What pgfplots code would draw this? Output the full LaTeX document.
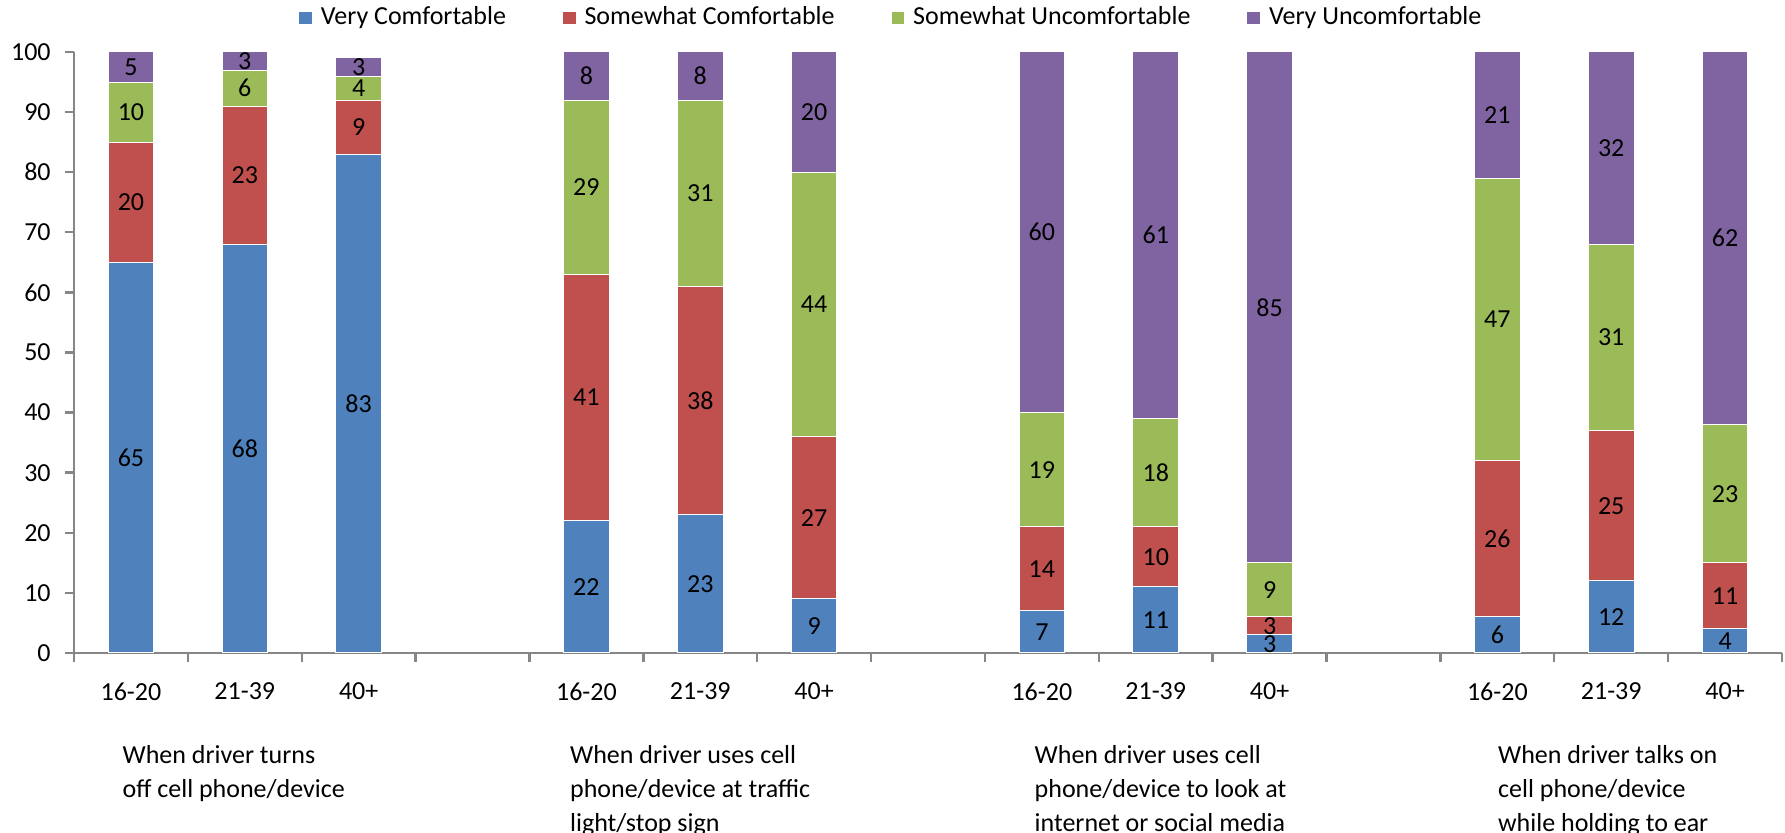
\documentclass[border=0pt]{standalone}
\usepackage{pgfplots}
\usepackage{pgfplotstable}
\pgfplotsset{compat=1.18}
\usetikzlibrary{calc}
\usepackage{fontspec}
\setmainfont{Carlito}
\definecolor{cVC}{HTML}{4F81BD}
\definecolor{cSC}{HTML}{C0504D}
\definecolor{cSU}{HTML}{9BBB59}
\definecolor{cVU}{HTML}{8064A2}
\definecolor{axgray}{HTML}{868686}
\pgfplotstableread{
x y
0 65
1 68
2 83
4 22
5 23
6 9
8 7
9 11
10 3
12 6
13 12
14 4
}\tVC
\pgfplotstableread{
x y
0 20
1 23
2 9
4 41
5 38
6 27
8 14
9 10
10 3
12 26
13 25
14 11
}\tSC
\pgfplotstableread{
x y
0 10
1 6
2 4
4 29
5 31
6 44
8 19
9 18
10 9
12 47
13 31
14 23
}\tSU
\pgfplotstableread{
x y
0 5
1 3
2 3
4 8
5 8
6 20
8 60
9 61
10 85
12 21
13 32
14 62
}\tVU
\begin{document}
\begin{tikzpicture}
\begin{axis}[
  scale only axis,
  width=427pt, height=150.25pt,
  ybar stacked,
  bar width=0.4,
  clip=false,
  xmin=-0.5, xmax=14.5,
  ymin=0, ymax=100,
  axis x line*=bottom,
  axis y line*=left,
  axis line style={axgray, line width=0.6pt},
  ytick={0,10,...,100},
  xtick={-0.5,0.5,...,14.5},
  xticklabels={},
  extra x ticks={0,1,2,4,5,6,8,9,10,12,13,14},
  extra x tick labels={16-20,21-39,40+,16-20,21-39,40+,16-20,21-39,40+,16-20,21-39,40+},
  extra x tick style={major tick length=0pt, tick label style={yshift=-4pt}},
  tick align=outside,
  major tick length=2.3pt,
  tick style={axgray, line width=0.6pt},
  /pgf/number format/assume math mode=true,
  tick label style={font=\fontsize{6.5}{8}\selectfont, black},
  legend style={at={(0.48,1)}, anchor=center, yshift=8.5pt, draw=none, fill=none,
    legend columns=4, font=\fontsize{6.5}{8}\selectfont,
    /tikz/every even column/.append style={column sep=12pt}},
  legend image code/.code={\fill[#1] (0pt,-1.7pt) rectangle (3.4pt,1.7pt);},
  visualization depends on=\thisrow{y} \as \rawy,
  nodes near coords={\pgfmathprintnumber[fixed,precision=0]{\rawy}},
  every node near coord/.append style={anchor=center, font=\fontsize{6.5}{8}\selectfont, black},
]
\addplot[fill=cVC, draw=white, line width=0.25pt] table[x=x,y=y] {\tVC};
\addplot[fill=cSC, draw=white, line width=0.25pt] table[x=x,y=y] {\tSC};
\addplot[fill=cSU, draw=white, line width=0.25pt] table[x=x,y=y] {\tSU};
\addplot[fill=cVU, draw=white, line width=0.25pt] table[x=x,y=y] {\tVU};
\legend{Very Comfortable, Somewhat Comfortable, Somewhat Uncomfortable, Very Uncomfortable}
\coordinate (bl) at (rel axis cs:0,0);
\coordinate (tr) at (rel axis cs:1,1);
\node[anchor=north west, inner sep=0pt, align=left, font=\fontsize{6.5}{8.4}\selectfont] at (axis cs:-0.08,0) [yshift=-23pt] {When driver turns\\off cell phone/device};
\node[anchor=north west, inner sep=0pt, align=left, font=\fontsize{6.5}{8.4}\selectfont] at (axis cs:3.85,0) [yshift=-23pt] {When driver uses cell\\phone/device at traffic\\light/stop sign};
\node[anchor=north west, inner sep=0pt, align=left, font=\fontsize{6.5}{8.4}\selectfont] at (axis cs:7.93,0) [yshift=-23pt] {When driver uses cell\\phone/device to look at\\internet or social media};
\node[anchor=north west, inner sep=0pt, align=left, font=\fontsize{6.5}{8.4}\selectfont] at (axis cs:12.0,0) [yshift=-23pt] {When driver talks on\\cell phone/device\\while holding to ear};
\end{axis}
\pgfresetboundingbox
\path ($(bl)+(-18.5pt,-45pt)$) rectangle ($(tr)+(0.75pt,13pt)$);
\end{tikzpicture}
\end{document}
